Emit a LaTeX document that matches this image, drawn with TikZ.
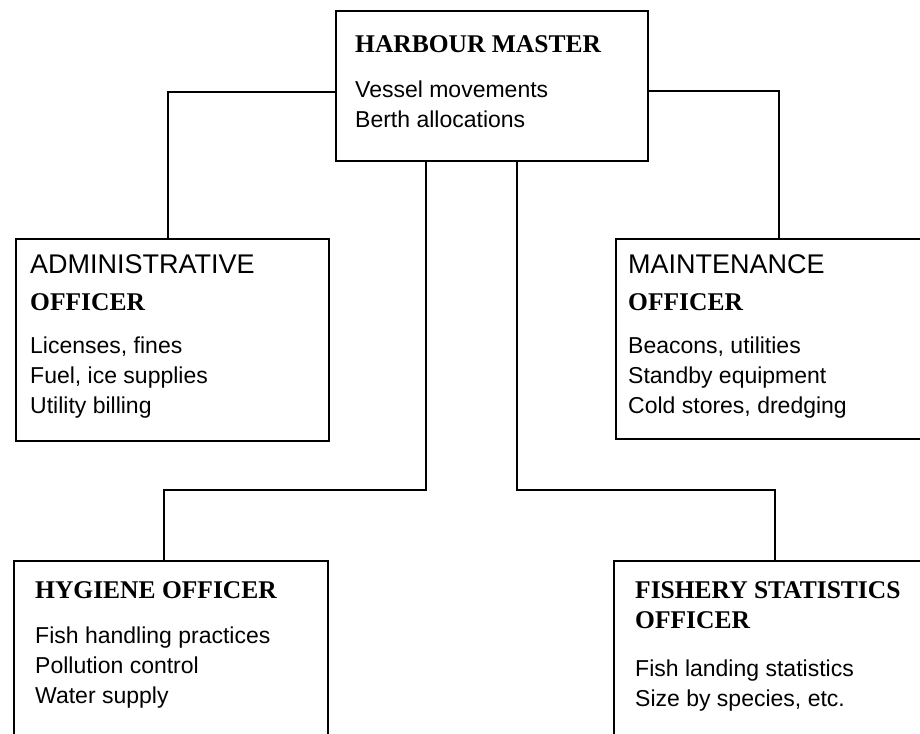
\documentclass[tikz,border=0pt]{standalone}
\usepackage{fontspec}
\setmainfont{Liberation Serif}
\setsansfont{Liberation Sans}
\usepackage{tikz}
\usetikzlibrary{positioning, calc}
\tikzset{
  officebox/.style={
    rectangle,
    draw=black,
    line width=2.2pt,
    fill=white,
    inner sep=0pt,
    anchor=north west
  },
  duties/.style={
    anchor=north west,
    inner sep=0pt,
    align=left,
    font=\sffamily\fontsize{23}{30}\selectfont
  },
  link/.style={
    line width=2pt,
    black
  }
}
\newcommand{\officetitle}[1]{{\rmfamily\bfseries\fontsize{25.5}{30}\selectfont #1}}
\newcommand{\officecaps}[1]{{\fontsize{27}{30}\selectfont #1}}

\begin{document}
\begin{tikzpicture}[x=1pt, y=-1pt]
  \useasboundingbox (0,0) rectangle (920,733);

  % BOXES
  \node (hm)    [officebox, minimum width=312pt, minimum height=150pt] at (335,10) {};
  \node (admin) [officebox, minimum width=313pt, minimum height=202pt] at (15,238) {};
  \node (maint) [officebox, minimum width=325pt, minimum height=200pt] at (615,238) {};
  \node (hyg)   [officebox, minimum width=314pt, minimum height=200pt] at (13,560) {};
  \node (fish)  [officebox, minimum width=327pt, minimum height=200pt] at (613,560) {};

  % TEXTS
  \node (hm text) [duties] at ([xshift=20pt, yshift=-25pt]hm.north west)
    {\officetitle{HARBOUR MASTER}\\[15pt] Vessel movements\\ Berth allocations};
  \node (admin text) [duties] at ([xshift=15pt, yshift=-16pt]admin.north west)
    {\officecaps{ADMINISTRATIVE}\\[7pt] \officetitle{OFFICER}\\[13pt] Licenses, fines\\ Fuel, ice supplies\\ Utility billing};
  \node (maint text) [duties] at ([xshift=13pt, yshift=-16pt]maint.north west)
    {\officecaps{MAINTENANCE}\\[7pt] \officetitle{OFFICER}\\[13pt] Beacons, utilities\\ Standby equipment\\ Cold stores, dredging};
  \node (hyg text) [duties] at ([xshift=22pt, yshift=-21pt]hyg.north west)
    {\officetitle{HYGIENE OFFICER}\\[15pt] Fish handling practices\\ Pollution control\\ Water supply};
  \node (fish text) [duties] at ([xshift=22pt, yshift=-21pt]fish.north west)
    {\officetitle{FISHERY STATISTICS}\\ \officetitle{OFFICER}\\[18pt] Fish landing statistics\\ Size by species, etc.};

  % CONNECTORS
  \coordinate (lowbus) at (0,490);
  \draw[link] ([yshift=-6pt]hm.west) -| ([xshift=-5pt]admin.north);
  \draw[link] ([yshift=-5pt]hm.east) -| (maint.north);
  \draw[link] ([xshift=-66pt]hm.south) -- ([xshift=-66pt]hm.south |- lowbus) -| ([xshift=-7pt]hyg.north);
  \draw[link] ([xshift=25pt]hm.south) -- ([xshift=25pt]hm.south |- lowbus) -| ([xshift=-3pt]fish.north);
\end{tikzpicture}
\end{document}
